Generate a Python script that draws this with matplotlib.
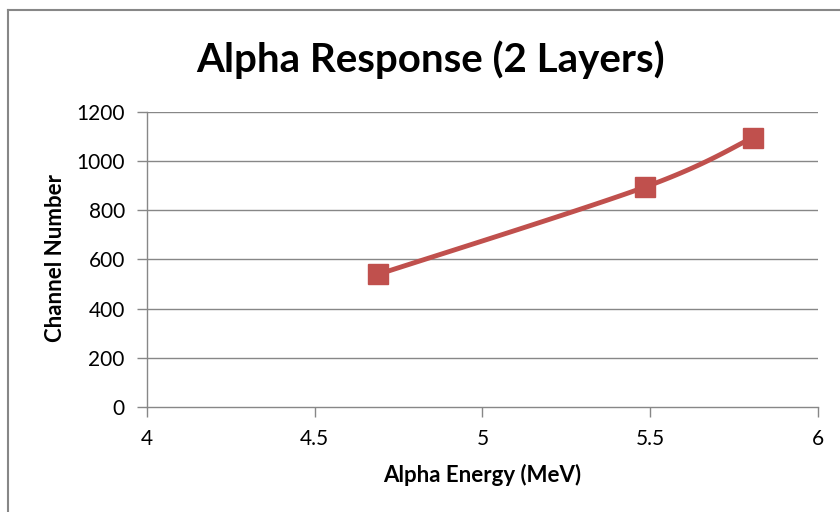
import numpy as np
import matplotlib
matplotlib.use("Agg")
import matplotlib.pyplot as plt
from matplotlib.lines import Line2D

energy = [4.69, 5.485, 5.805]
channel = [540, 895, 1095]
xticks = [4, 4.5, 5, 5.5, 6]
yticks = [0, 200, 400, 600, 800, 1000, 1200]

plt.rcParams['font.family'] = ['Lato', 'DejaVu Sans']

fig = plt.figure(figsize=(8.4, 5.12), dpi=100)
ax = fig.add_axes([0.175, 0.2051, 0.7988, 0.5762])
ax.set_xlim(4, 6)
ax.set_ylim(0, 1200)

# smooth curve (Catmull-Rom style bezier, like Excel smoothed line)
xs = np.array(energy, float)
ys = np.array(channel, float)
sx, sy = 2.0, 1200.0
P = np.column_stack([xs / sx, ys / sy])
curve = []
n = len(P)
for i in range(n - 1):
    p0 = P[i - 1] if i > 0 else P[i]
    p1 = P[i]
    p2 = P[i + 1]
    p3 = P[i + 2] if i + 2 < n else P[i + 1]
    c1 = p1 + (p2 - p0) / 6
    c2 = p2 - (p3 - p1) / 6
    t = np.linspace(0, 1, 60)[:, None]
    seg = (1 - t) ** 3 * p1 + 3 * (1 - t) ** 2 * t * c1 + 3 * (1 - t) * t ** 2 * c2 + t ** 3 * p2
    curve.append(seg)
curve = np.vstack(curve)
ax.plot(curve[:, 0] * sx, curve[:, 1] * sy, color='#C0504D', lw=3.5, solid_capstyle='round', zorder=3)
ax.plot(xs, ys, linestyle='none', marker='s', markersize=14, color='#C0504D', zorder=4)

ax.set_xticks(xticks)
ax.set_xticklabels([f"{v:g}" for v in xticks])
ax.set_yticks(yticks)
for y in yticks[1:]:
    ax.axhline(y, color='#878787', lw=1, zorder=1)
for s in ['top', 'right']:
    ax.spines[s].set_visible(False)
for s in ['left', 'bottom']:
    ax.spines[s].set_color('#878787')
    ax.spines[s].set_linewidth(1)
ax.tick_params(axis='both', color='#878787', length=7, width=1, labelsize=15, labelcolor='black')
ax.tick_params(axis='y', pad=9)
ax.tick_params(axis='x', pad=9)

ax.set_xlabel('Alpha Energy (MeV)', fontsize=16, fontweight='bold', va='center', ha='center')
ax.set_ylabel('Channel Number', fontsize=16, fontweight='bold', va='center', ha='center')
ax.xaxis.set_label_coords(0.5 + (482 - 482) / 671, (407 - 475) / 295)
ax.yaxis.set_label_coords((55 - 147) / 671, (407 - 258) / 295)
fig.text(0.513, 0.883, 'Alpha Response (2 Layers)', fontsize=29, fontweight='bold', ha='center', va='center')

# chart border (top and left visible)
fig.add_artist(Line2D([8/840, 8/840], [0, 1 - 10/512], transform=fig.transFigure, color='#878787', lw=1.5))
fig.add_artist(Line2D([8/840, 1], [1 - 10/512, 1 - 10/512], transform=fig.transFigure, color='#878787', lw=1.5))

fig.savefig('out.png', dpi=100)
